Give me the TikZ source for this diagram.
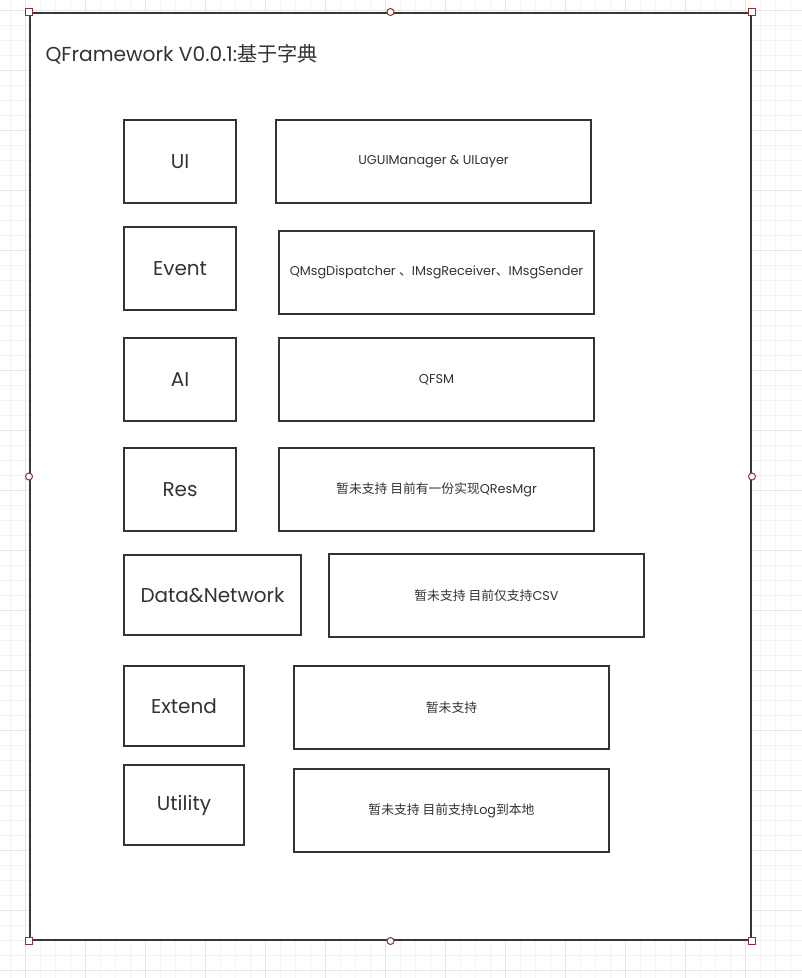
\documentclass[tikz,border=0pt]{standalone}
\usepackage{fontspec}
\setmainfont{Poppins}
\newfontfamily\cjk{Noto Sans CJK SC}
\definecolor{gridminor}{HTML}{F3F3F3}
\definecolor{gridmajor}{HTML}{E6E6E6}
\definecolor{frameline}{HTML}{3D3535}
\definecolor{handle}{HTML}{8B3232}
\definecolor{boxline}{HTML}{333333}
\begin{document}
\begin{tikzpicture}[x=1pt,y=-1pt,
  modul/.style={draw=boxline, line width=2pt, minimum width=112pt, minimum height=83pt,
    inner sep=0pt, text=boxline, font=\fontsize{20}{20}\selectfont},
  sisalto/.style={draw=boxline, line width=2pt, minimum width=315pt, minimum height=83pt,
    inner sep=0pt, text=boxline, font=\fontsize{12.8}{12.8}\selectfont},
  kahva/.style={draw=handle, fill=white, line width=1pt, inner sep=0pt, minimum size=7pt},
]
\useasboundingbox (0,0) rectangle (802,978);
\fill[white] (0,0) rectangle (802,978);
% grid
\foreach \k in {0,...,53} {
  \draw[gridminor, line width=1pt] (10.7+15*\k,0) -- (10.7+15*\k,978);
}
\foreach \k in {0,...,65} {
  \draw[gridminor, line width=1pt] (0,10+15*\k) -- (802,10+15*\k);
}
\foreach \k in {0,...,13} {
  \draw[gridmajor, line width=1pt] (25.7+60*\k,0) -- (25.7+60*\k,978);
}
\foreach \k in {0,...,16} {
  \draw[gridmajor, line width=1pt] (0,10+60*\k) -- (802,10+60*\k);
}
% frame
\node[draw=frameline, fill=white, line width=2pt, minimum width=721pt, minimum height=927pt,
  inner sep=0pt] (kehys) at (390.5,476.5) {};
\node[anchor=west, text=boxline, font=\fontsize{20.2}{20.2}\selectfont] (otsikko) at (42,54)
  {QFramework V0.0.1:{\cjk 基于字典}};
% handles
\foreach \a in {north west,north east,south west,south east}
  \node[kahva] at (kehys.\a) {};
\foreach \a in {north,south,west,east}
  \node[kahva, circle] at (kehys.\a) {};
% modules
\node[modul] (ui) at (180,161.5) {UI};
\node[modul] (event) at (180,268.5) {Event};
\node[modul] (ai) at (180,379.5) {AI};
\node[modul] (res) at (180,489.5) {Res};
\node[modul, minimum width=177pt, minimum height=80pt] (data) at (212.5,595) {Data\&Network};
\node[modul, minimum width=120pt, minimum height=80pt] (extend) at (184,706) {Extend};
\node[modul, minimum width=120pt, minimum height=80pt] (utility) at (184,805) {Utility};
% contents
\node[sisalto] (uitext) at (433.5,161.5) {UGUIManager \& UILayer};
\node[sisalto] (eventtext) at (436.5,272.5) {QMsgDispatcher {\cjk 、}IMsgReceiver{\cjk 、}IMsgSender};
\node[sisalto] (aitext) at (436.5,379.5) {QFSM};
\node[sisalto] (restext) at (436.5,489.5) {{\cjk 暂未支持 目前有一份实现}QResMgr};
\node[sisalto] (datatext) at (486.5,595.5) {{\cjk 暂未支持 目前仅支持}CSV};
\node[sisalto] (extendtext) at (451.5,707.5) {{\cjk 暂未支持}};
\node[sisalto] (utilitytext) at (451.5,810.5) {{\cjk 暂未支持 目前支持}Log{\cjk 到本地}};
\end{tikzpicture}
\end{document}
